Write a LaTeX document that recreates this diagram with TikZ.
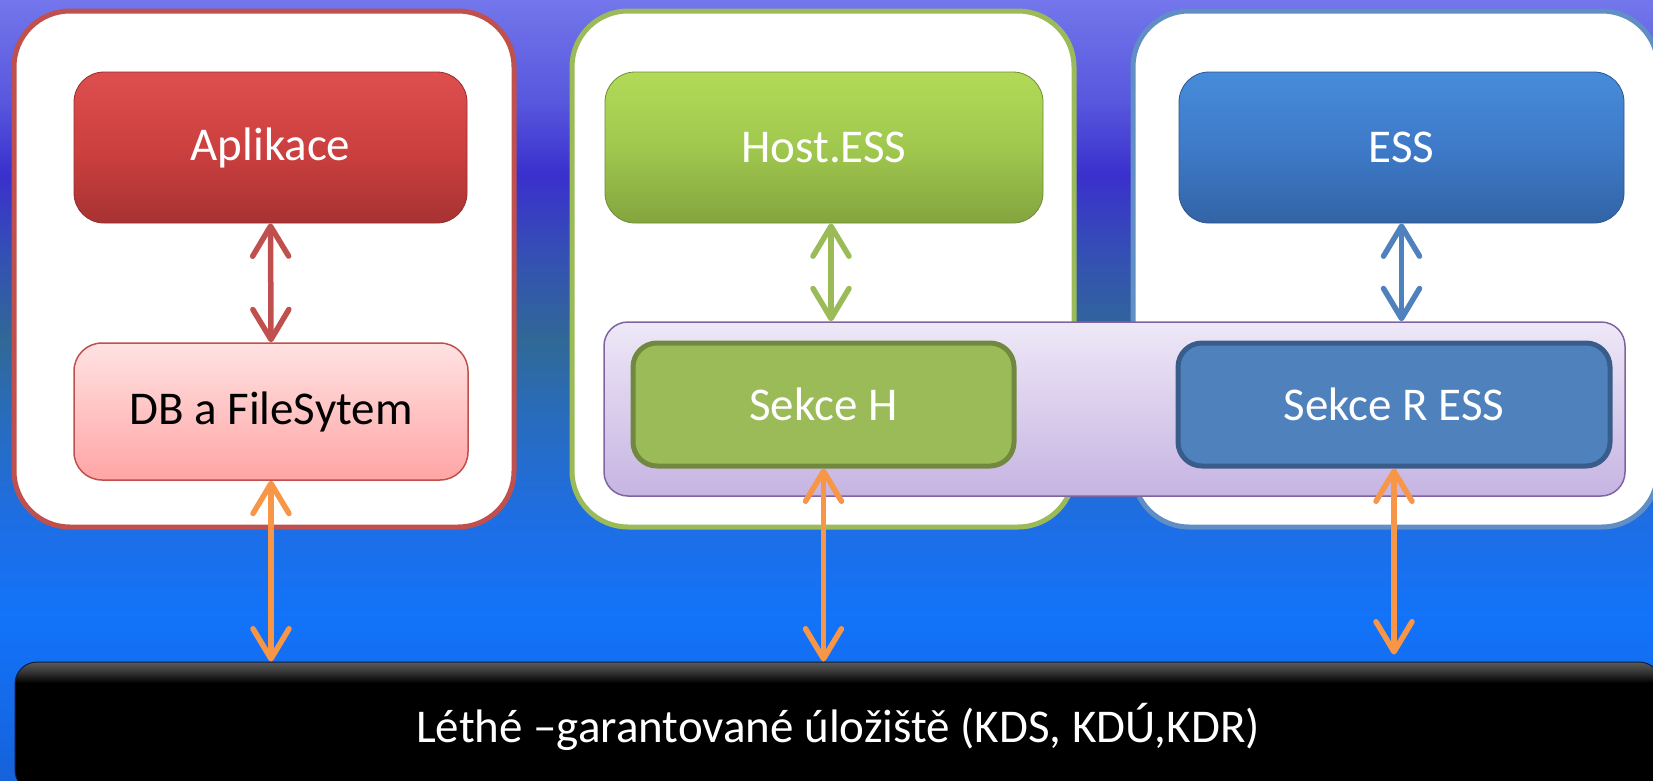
\documentclass[tikz,border=0pt]{standalone}
\usepackage{fontspec}
\setmainfont{Carlito}
\usetikzlibrary{arrows.meta}

\definecolor{bg0}{RGB}{22,98,218}
\definecolor{bg1}{RGB}{18,115,250}
\definecolor{bg2}{RGB}{30,110,228}
\definecolor{bg3}{RGB}{40,108,190}
\definecolor{bg4}{RGB}{48,104,150}
\definecolor{bg5}{RGB}{52,82,178}
\definecolor{bg6}{RGB}{58,48,205}
\definecolor{bg7}{RGB}{88,88,222}
\definecolor{bg8}{RGB}{115,118,235}

\definecolor{redB}{HTML}{C0504D}
\definecolor{greenB}{HTML}{9BBB59}
\definecolor{blueB}{HTML}{4F81BD}
\definecolor{orangeA}{HTML}{F79646}
\definecolor{purpleB}{HTML}{8064A2}
\definecolor{greenD}{HTML}{71893F}
\definecolor{blueD}{HTML}{385D8A}

\pgfdeclareverticalshading{bgshade}{100bp}{color(0bp)=(bg0); color(25bp)=(bg0); color(35.3bp)=(bg1); color(41.7bp)=(bg2); color(48.1bp)=(bg3); color(53.2bp)=(bg4); color(58.3bp)=(bg5); color(63.8bp)=(bg6); color(68.6bp)=(bg7); color(75bp)=(bg8); color(100bp)=(bg8)}
\pgfdeclareverticalshading{blackshade}{100bp}{color(0bp)=(black); color(67bp)=(black); color(71bp)=(black!80!white); color(75bp)=(black!65!white); color(100bp)=(black!65!white)}

\tikzset{
  outerbox/.style={rounded corners=56pt, fill=white, line width=5pt, inner sep=0pt},
  lbl/.style={font=\fontsize{47}{56}\selectfont, inner sep=0pt},
  glossbox/.style={lbl, rounded corners=30pt, text=white},
  secbox/.style={lbl, rounded corners=24pt, text=white, line width=5pt},
  dbl/.style={line width=5.5pt, {Straight Barb[length=30pt,width=36pt,round]}-{Straight Barb[length=30pt,width=36pt,round]}},
}

\begin{document}
\begin{tikzpicture}[x=1pt,y=-1pt]
\useasboundingbox (0,0) rectangle (1653,780);
\shade[shading=bgshade] (0,0) rectangle (1653,780);

% outer containers
\node[outerbox, draw=redB, minimum width=500pt, minimum height=516pt] (rout) at (264,269) {};
\node[outerbox, draw=greenB, minimum width=502pt, minimum height=516pt] (gout) at (823,269) {};
\node[outerbox, draw=blueB!90!white, minimum width=525pt, minimum height=516pt] (bout) at (1395.5,269) {};

% purple band
\node[rounded corners=24pt, draw=purpleB, line width=1.5pt, top color={rgb,255:red,238;green,232;blue,247}, bottom color={rgb,255:red,198;green,180;blue,226}, minimum width=1021pt, minimum height=174pt, inner sep=0pt] (band) at (1114.5,409) {};

% top boxes
\node[glossbox, draw={rgb,255:red,150;green,45;blue,45}, line width=0.8pt, top color={rgb,255:red,222;green,78;blue,78}, bottom color={rgb,255:red,168;green,50;blue,50}, middle color={rgb,255:red,205;green,64;blue,64}, minimum width=393pt, minimum height=151pt] (apl) at (270.5,147.5) {Aplikace};
\node[glossbox, draw={rgb,255:red,110;green,140;blue,55}, line width=0.8pt, top color={rgb,255:red,178;green,218;blue,88}, bottom color={rgb,255:red,132;green,164;blue,62}, middle color={rgb,255:red,160;green,200;blue,78}, minimum width=438pt, minimum height=151pt] (host) at (824,147.5) {Host.ESS};
\node[glossbox, draw={rgb,255:red,45;green,85;blue,140}, line width=0.8pt, top color={rgb,255:red,70;green,140;blue,218}, bottom color={rgb,255:red,50;green,100;blue,165}, middle color={rgb,255:red,62;green,122;blue,200}, minimum width=445pt, minimum height=151pt] (ess) at (1401.5,147.5) {ESS};

% DB box
\node[lbl, rounded corners=28pt, draw=redB, line width=1.5pt, top color={rgb,255:red,255;green,226;blue,226}, bottom color={rgb,255:red,255;green,165;blue,165}, minimum width=394pt, minimum height=137pt, text=black] (db) at (271,411.5) {DB a FileSytem};

% sections
\node[secbox, draw=greenD, fill=greenB, minimum width=381pt, minimum height=123pt] (sekh) at (823.5,404.5) {Sekce H};
\node[secbox, draw=blueD, fill=blueB, minimum width=432pt, minimum height=123pt] (sekr) at (1394,404.5) {Sekce R ESS};

% storage
\node[lbl, rounded corners=22pt, draw={rgb,255:red,10;green,30;blue,70}, line width=1pt, shading=blackshade, minimum width=1646pt, minimum height=130pt, text=white] (store) at (838,727) {Léthé –garantované úložiště (KDS, KDÚ,KDR)};

% connectors
\draw[dbl, redB] (apl.south) -- (db.north);
\draw[dbl, greenB] ([xshift=7pt]host.south) -- ([xshift=7pt]host.south |- band.north);
\draw[dbl, blueB] (ess.south) -- (ess.south |- band.north);
\draw[dbl, orangeA] (db.south) -- (db.south |- store.north);
\draw[dbl, orangeA] (sekh.south) -- (sekh.south |- store.north);
\draw[dbl, orangeA, shorten >=7pt] (sekr.south) -- (sekr.south |- store.north);
\end{tikzpicture}
\end{document}
